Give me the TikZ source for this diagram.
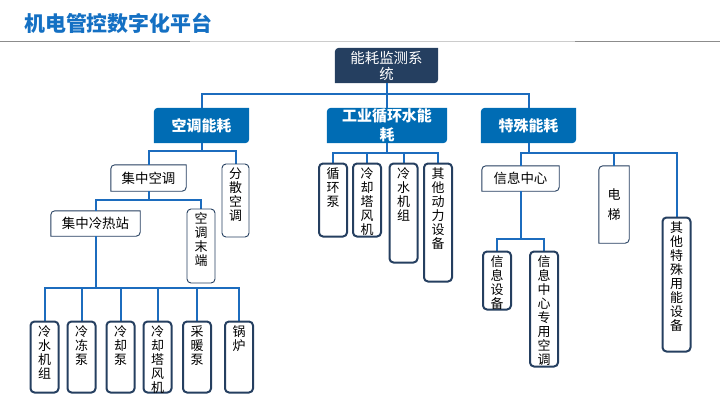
\documentclass[tikz,border=0pt]{standalone}
\usepackage{fontspec}
\setmainfont{Noto Sans CJK SC}
\usepackage{xcolor}
\usetikzlibrary{backgrounds}

\definecolor{navy}{RGB}{37,63,96}
\definecolor{catblue}{RGB}{0,108,180}
\definecolor{linkblue}{RGB}{28,108,190}
\definecolor{titleblue}{RGB}{20,112,195}

% top-aligned column of characters
\newcommand{\vlabel}[2]{\parbox[c][#1bp][t]{16bp}{\centering\vspace*{4bp}#2}}
% frame with the top left and bottom right corners rounded
\newcommand{\diagframe}[2]{%
  \path[#2] (#1.south west) -- ([yshift=-4bp]#1.north west)
    arc[start angle=180,end angle=90,radius=4bp] -- (#1.north east)
    -- ([yshift=4bp]#1.south east) arc[start angle=0,end angle=-90,radius=4bp] -- cycle;}

\tikzset{
  size/.style 2 args={minimum width=#1bp,minimum height=#2bp},
  rootbox/.style={text=white,inner sep=0pt,align=center,font=\fontsize{14.5}{16}\selectfont},
  catbox/.style={text=white,inner sep=0pt,align=center,font=\fontsize{15}{19}\selectfont\bfseries},
  subbox/.style={inner sep=0pt,align=center,font=\fontsize{13.5}{14}\selectfont},
  thinleaf/.style={draw=navy,line width=0.9bp,rounded corners=4bp,fill=white,inner sep=0pt,font=\fontsize{13}{14}\selectfont},
  leaf/.style={draw=navy,line width=2bp,rounded corners=4bp,fill=white,inner sep=0pt,minimum width=28bp,font=\fontsize{13}{14}\selectfont},
  link/.style={draw=linkblue,line width=2bp},
}

\begin{document}
\begin{tikzpicture}[x=1bp,y=1bp]
  \useasboundingbox (0,0) rectangle (720,-405);

  % title and rule
  \node[anchor=west,inner sep=0pt,text=titleblue,font=\fontsize{21}{24}\selectfont\bfseries] (title) at (24,-23.5) {机电管控数字化平台};
  \draw[line width=1.5bp,gray!90] (0,-41.5) -- (720,-41.5);
  \draw[line width=1.5bp,gray!40] (190,-41.5) -- (575,-41.5);

  % top levels
  \node[rootbox,size={103}{35}] (root) at (386.5,-65.5) {能耗监测系\\统};
  \node[catbox,size={95}{35}] (acn) at (201.5,-125.5) {空调能耗};
  \node[catbox,size={120}{35}] (gy) at (387,-125.5) {工业循环水能\\耗};
  \node[catbox,size={95}{35}] (ts) at (528.5,-125.5) {特殊能耗};

  % air conditioning
  \node[subbox,size={75}{26}] (jzkt) at (148.5,-178) {集中空调};
  \node[thinleaf,minimum width=27bp] (fskt) at (235.5,-200.5) {\vlabel{73}{分\\散\\空\\调}};
  \node[subbox,size={89}{25}] (jzlrz) at (95.5,-223.5) {集中冷热站};
  \node[thinleaf,minimum width=28bp] (ktmd) at (201,-246) {\vlabel{74}{空\\调\\末\\端}};
  \node[leaf] (lsjz) at (44.5,-357) {\vlabel{71}{冷\\水\\机\\组}};
  \node[leaf] (ldb) at (81.5,-357) {\vlabel{71}{冷\\冻\\泵}};
  \node[leaf] (lqb) at (120.5,-357) {\vlabel{71}{冷\\却\\泵}};
  \node[leaf] (lqtfj) at (157.5,-357) {\vlabel{71}{冷\\却\\塔\\风\\机}};
  \node[leaf] (cnb) at (197,-357) {\vlabel{71}{采\\暖\\泵}};
  \node[leaf] (gl) at (239,-357) {\vlabel{71}{锅\\炉}};

  % industrial circulating water
  \node[leaf] (xhb) at (333,-200) {\vlabel{73}{循\\环\\泵}};
  \node[leaf] (gylqt) at (367,-200) {\vlabel{73}{冷\\却\\塔\\风\\机}};
  \node[leaf] (gylsj) at (403.5,-213) {\vlabel{99}{冷\\水\\机\\组}};
  \node[leaf] (qtdl) at (438,-222.5) {\vlabel{118}{其\\他\\动\\力\\设\\备}};

  % special
  \node[subbox,size={77}{25}] (xxzx) at (520.5,-178.5) {信息中心};
  \node[subbox,size={30}{77},font=\fontsize{13}{20}\selectfont] (dt) at (614,-204.5) {电\\梯};
  \node[leaf] (qtts) at (676.5,-284.5) {\vlabel{134}{其\\他\\特\\殊\\用\\能\\设\\备}};
  \node[leaf] (xxsb) at (497,-280.5) {\vlabel{58}{信\\息\\设\\备}};
  \node[leaf] (xxkt) at (544,-309) {\vlabel{115}{信\\息\\中\\心\\专\\用\\空\\调}};

  \begin{scope}[on background layer]
    \diagframe{root}{fill=navy}
    \foreach \n in {acn,gy,ts} {\diagframe{\n}{fill=catblue}}
    \foreach \n in {jzkt,jzlrz,xxzx,dt} {\diagframe{\n}{draw=navy,line width=0.9bp,fill=white}}

    \foreach \c in {acn,gy,ts} \draw[link] (root.south) -- ++(0,-11) -| (\c.north);
    \foreach \c in {jzkt,fskt} \draw[link] (acn.south) -- ++(0,-8) -| (\c.north);
    \foreach \c in {jzlrz,ktmd} \draw[link] (jzkt.south) -- ++(0,-9) -| (\c.north);
    \foreach \c in {lsjz,ldb,lqb,lqtfj,cnb,gl} \draw[link] (jzlrz.south) -- ++(0,-52) -| (\c.north);
    \foreach \c in {xhb,gylqt,gylsj,qtdl} \draw[link] (gy.south) -- ++(0,-10) -| (\c.north);
    \foreach \c in {xxzx,dt,qtts} \draw[link] (ts.south) -- ++(0,-10) -| (\c.north);
    \foreach \c in {xxsb,xxkt} \draw[link] (xxzx.south) -- ++(0,-48) -| (\c.north);
  \end{scope}
\end{tikzpicture}
\end{document}
